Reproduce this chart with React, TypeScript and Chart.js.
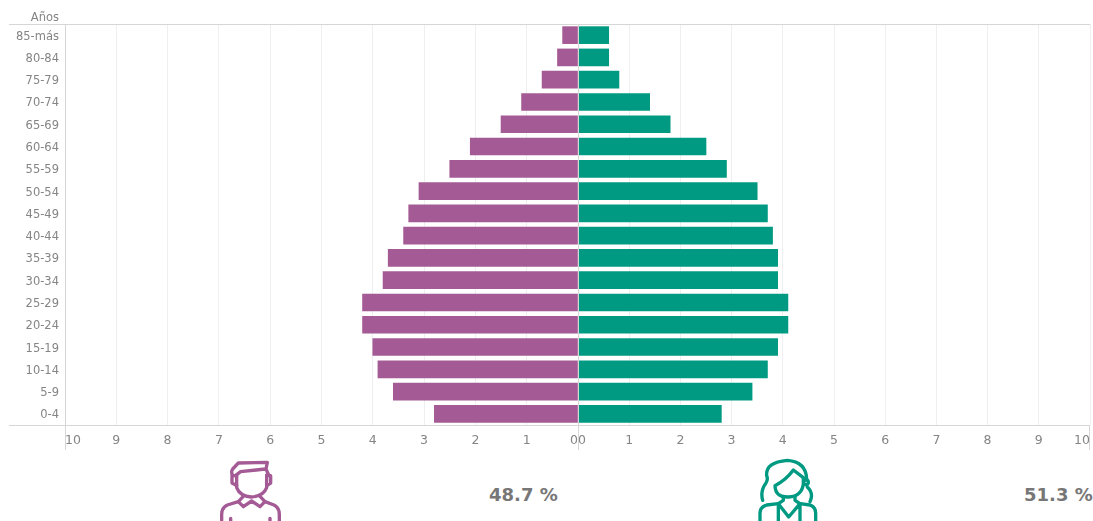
import React, { useEffect, useRef } from "react";
import { Chart, registerables } from "chart.js";

Chart.register(...registerables);

const ageGroups = ["85-más", "80-84", "75-79", "70-74", "65-69", "60-64", "55-59", "50-54", "45-49", "40-44", "35-39", "30-34", "25-29", "20-24", "15-19", "10-14", "5-9", "0-4"];
const maleValues = [0.3, 0.4, 0.7, 1.1, 1.5, 2.1, 2.5, 3.1, 3.3, 3.4, 3.7, 3.8, 4.2, 4.2, 4.0, 3.9, 3.6, 2.8];
const femaleValues = [0.6, 0.6, 0.8, 1.4, 1.8, 2.5, 2.9, 3.5, 3.7, 3.8, 3.9, 3.9, 4.1, 4.1, 3.9, 3.7, 3.4, 2.8];
const axisTicks = [0, 1, 2, 3, 4, 5, 6, 7, 8, 9, 10];
const yAxisTitle = "Años";
const malePercent = "48.7 %";
const femalePercent = "51.3 %";

const PURPLE = "#A45A94";
const GREEN = "#009A82";
const FONT = "'DejaVu Sans', sans-serif";
const LINE = "#d6d6d6";
const GRID = "#efefef";
const TICK = "#858585";

const framePlugin = (isLeft: boolean) => ({
  id: "frame",
  afterLayout(chart: any) {
    if (!isLeft) return;
    chart.scales.y.getLabelItems().forEach((item: any) => {
      item.options.translation[1] += 1.5;
    });
  },
  afterDatasetsDraw(chart: any) {
    const { ctx, chartArea: a } = chart;
    ctx.save();
    ctx.strokeStyle = LINE;
    ctx.lineWidth = 1;
    const seg = (x1: number, y1: number, x2: number, y2: number) => {
      ctx.beginPath();
      ctx.moveTo(x1, y1);
      ctx.lineTo(x2, y2);
      ctx.stroke();
    };
    const from = isLeft ? 9 : a.left;
    seg(from, a.top + 0.5, a.right, a.top + 0.5);
    seg(from, a.bottom + 0.5, a.right, a.bottom + 0.5);
    seg(a.left + 0.5, a.top, a.left + 0.5, chart.height);
    if (!isLeft) seg(a.right - 0.5, a.bottom, a.right - 0.5, chart.height);
    ctx.restore();
  },
});

function makeChart(canvas: HTMLCanvasElement, values: number[], color: string, isLeft: boolean) {
  return new Chart(canvas, {
    type: "bar",
    plugins: [framePlugin(isLeft)],
    data: {
      labels: ageGroups,
      datasets: [{ data: values, backgroundColor: color, barThickness: 17 }],
    },
    options: {
      indexAxis: "y",
      animation: false,
      responsive: false,
      layout: { padding: { top: 24, right: isLeft ? 0 : 3, left: 0, bottom: 0 } },
      plugins: { legend: { display: false }, tooltip: { enabled: false } },
      scales: {
        x: {
          type: "linear",
          min: 0,
          max: 10,
          reverse: isLeft,
          afterBuildTicks: (s: any) => {
            s.ticks = axisTicks.map((value) => ({ value }));
          },
          afterFit: (s: any) => {
            s.height = 25;
            s.paddingLeft = 0;
            s.paddingRight = 0;
          },
          grid: { color: GRID, drawTicks: false, lineWidth: 1 },
          border: { display: false },
          ticks: {
            align: "inner",
            padding: 8,
            maxRotation: 0,
            autoSkip: false,
            color: TICK,
            font: { family: FONT, size: 12.5 },
          },
        },
        y: {
          type: "category",
          display: isLeft,
          afterFit: (s: any) => {
            s.width = isLeft ? 65 : 0;
            s.paddingTop = 0;
            s.paddingBottom = 0;
          },
          grid: { display: false, drawTicks: false },
          border: { display: false },
          ticks: {
            padding: 6,
            autoSkip: false,
            color: TICK,
            font: { family: FONT, size: 11.5 },
          },
        },
      },
    } as any,
  });
}

const pctStyle = (left: number): React.CSSProperties => ({
  position: "absolute",
  left,
  top: 482,
  font: "bold 18px 'DejaVu Sans', sans-serif",
  lineHeight: "26px",
  color: "#777777",
  whiteSpace: "nowrap",
});

function ManIcon() {
  return (
    <svg width={80} height={66} viewBox="0 0 240 198" style={{ position: "absolute", left: 210, top: 455 }} fill="none" stroke={PURPLE} strokeWidth={10} strokeLinejoin="round" strokeLinecap="round">
      <path d="M68 62 Q62 50 68 42 L85 24 L172 22 L168 42 L176 60 M76 62 L92 50 L165 42" />
      <path d="M80 62 V98 Q90 124 124 126 Q160 124 170 98 V60" />
      <path d="M80 62 H66 V84 L80 92 M170 62 H182 V84 L170 92" />
      <path d="M100 124 L85 140 L100 155 L125 138 L150 155 L165 140 L150 124" />
      <path d="M85 140 L52 150 Q35 158 35 178 V204 M165 140 L192 150 Q208 158 208 178 V204" />
      <path d="M62 190 V204 M180 190 V204" />
    </svg>
  );
}

function WomanIcon() {
  return (
    <svg width={80} height={66} viewBox="0 0 240 198" style={{ position: "absolute", left: 750, top: 455 }} fill="none" stroke={GREEN} strokeWidth={10} strokeLinejoin="round" strokeLinecap="round">
      <path d="M50 62 Q46 22 112 16 Q168 20 170 72 M50 62 Q55 72 48 84 Q30 108 38 136 M172 96 Q192 115 180 140" />
      <path d="M75 92 Q76 128 116 126 Q156 124 160 86 V68 L130 45 Q108 75 75 92 Z" />
      <circle cx={168} cy={82} r={7} />
      <path d="M100 124 V136 L85 146 M135 124 V136 L150 146" />
      <path d="M85 146 L116 186 L150 146 M85 146 V204 M150 146 V204" />
      <path d="M85 146 L50 150 Q30 156 30 174 V204 M150 146 L180 150 Q197 156 197 174 V204" />
    </svg>
  );
}

export default function App() {
  const leftRef = useRef<HTMLCanvasElement>(null);
  const rightRef = useRef<HTMLCanvasElement>(null);

  useEffect(() => {
    const left = makeChart(leftRef.current!, maleValues, PURPLE, true);
    const right = makeChart(rightRef.current!, femaleValues, GREEN, false);
    return () => {
      left.destroy();
      right.destroy();
    };
  }, []);

  return (
    <div style={{ position: "fixed", left: 0, top: 0, width: 1093, height: 521, overflow: "hidden", background: "#fff" }}>
      <canvas ref={leftRef} width={578} height={450} style={{ position: "absolute", left: 0, top: 0, width: 578, height: 450 }} />
      <canvas ref={rightRef} width={515} height={450} style={{ position: "absolute", left: 578, top: 0, width: 515, height: 450 }} />
      <div style={{ position: "absolute", right: 1034, top: 9, font: "11.5px 'DejaVu Sans', sans-serif", lineHeight: "16px", color: TICK }}>{yAxisTitle}</div>
      <ManIcon />
      <WomanIcon />
      <div style={pctStyle(489)}>{malePercent}</div>
      <div style={pctStyle(1024)}>{femalePercent}</div>
    </div>
  );
}
